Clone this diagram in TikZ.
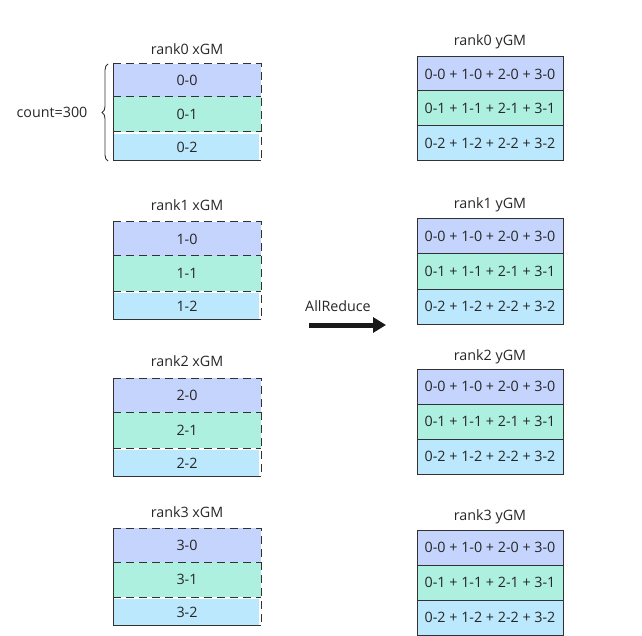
\documentclass[tikz,border=0pt]{standalone}
\usepackage{fontspec}
\setmainfont{Open Sans}
\usetikzlibrary{arrows.meta,decorations.pathreplacing}
\definecolor{cA}{RGB}{197,212,252}
\definecolor{cB}{RGB}{174,240,224}
\definecolor{cC}{RGB}{187,232,252}
\definecolor{edge}{RGB}{50,50,50}
\tikzset{
  lbl/.style={font=\fontsize{14.3}{16}\selectfont, text=black!85, inner sep=0pt},
  dsep/.style={draw=edge, line width=1pt, dash pattern=on 8pt off 5pt},
  sline/.style={draw=edge, line width=1pt},
}
\begin{document}
\begin{tikzpicture}[x=1pt,y=-1pt]
\useasboundingbox (0,0) rectangle (642,636);
% left xGM boxes
\foreach \r/\t/\a/\b/\bot/\ty in {0/64/97/132/161/49, 1/222/256/291/319/205, 2/378/412/448/476/361, 3/528/562/597/625/512}{
  \fill[cA] (113,\t) rectangle (261,\a);
  \fill[cB] (113,\a) rectangle (261,\b);
  \fill[cC] (114,\b+2) rectangle (259,\bot);
  \node[lbl] (xt\r) at (187,\ty) {rank\r{} xGM};
  \node[lbl] (x\r a) at (187,{(\t+\a)/2}) {\r-0};
  \node[lbl] (x\r b) at (187,{(\a+\b)/2}) {\r-1};
  \node[lbl] (x\r c) at (187,{(\b+\bot)/2+1}) {\r-2};
  \draw[dsep] (113,\t) -- (261,\t) -- (261,\bot);
  \draw[dsep] (113,\a) -- (261,\a);
  \draw[dsep] (113,\b) -- (261,\b);
  \draw[sline] (113,\t) -- (113,\bot) -- (261,\bot);
}
% right yGM boxes
\foreach \r/\t/\a/\b/\bot/\ty in {0/57/91/126/161/42, 1/219/254/289/324/205, 2/369/404/439/474/357, 3/530/565/600/635/517}{
  \fill[cA] (417,\t) rectangle (563,\a);
  \fill[cB] (417,\a) rectangle (563,\b);
  \fill[cC] (417,\b) rectangle (563,\bot);
  \draw[sline] (417,\t) rectangle (563,\bot);
  \draw[sline] (417,\a) -- (563,\a);
  \draw[sline] (417,\b) -- (563,\b);
  \node[lbl] (yt\r) at (490,\ty) {rank\r{} yGM};
  \node[lbl] (y\r a) at (490,{(\t+\a)/2}) {0-0 + 1-0 + 2-0 + 3-0};
  \node[lbl] (y\r b) at (490,{(\a+\b)/2}) {0-1 + 1-1 + 2-1 + 3-1};
  \node[lbl] (y\r c) at (490,{(\b+\bot)/2}) {0-2 + 1-2 + 2-2 + 3-2};
}
% brace
\draw[edge, line width=0.9pt, decorate, decoration={brace, amplitude=6pt}] (108,161) -- (108,64);
\node[lbl] (cnt) at (52,112) {count=300};
% arrow
\coordinate (as) at (309,325);
\coordinate (ae) at (386,325);
\draw[line width=5pt, black!90, -{Triangle[length=13pt,width=15pt]}] (as) -- (ae);
\node[lbl] (ar) at (338,306) {AllReduce};
\end{tikzpicture}
\end{document}
